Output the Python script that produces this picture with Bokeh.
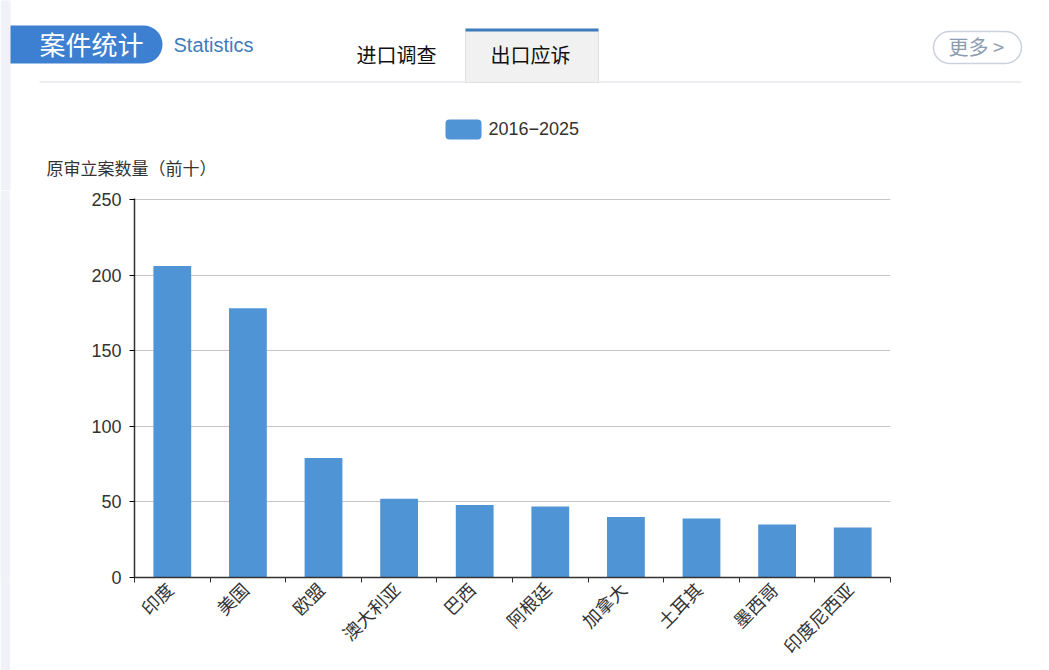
from bokeh.core.properties import value
from bokeh.embed import file_html
from bokeh.layouts import column, row
from bokeh.models import FixedTicker, Range1d
from bokeh.plotting import figure
from bokeh.resources import INLINE
import math

categories = ["印度", "美国", "欧盟", "澳大利亚", "巴西", "阿根廷", "加拿大", "土耳其", "墨西哥", "印度尼西亚"]
case_counts = [206, 178, 79, 52, 48, 47, 40, 39, 35, 33]
y_ticks = [0, 50, 100, 150, 200, 250]
series_name = "2016\u22122025"

W, H = 1049, 670
HEADER_H = 190
STRIP_W = 10
CJK = "Noto Sans CJK SC"
LATIN = "Liberation Sans"
BAR_COLOR = "#4f94d5"
BLUE = "#3d7fd0"
STRIP_COLOR = "#f0f2f7"
positions = [i + 0.5 for i in range(len(categories))]
# 旋转后的标签往左挪一点，和柱子的中心线对齐方式同原图
label_positions = [pos - 0.04 for pos in positions]

# 页头单独一张图，坐标直接用页面像素（文字和色块放到坐标区外会被 svg 裁掉）
header = figure(width=W, height=HEADER_H, output_backend="svg", toolbar_location=None,
                x_range=Range1d(0, W), y_range=Range1d(HEADER_H, 0),
                x_axis_location=None, y_axis_location=None, min_border=0)
header.grid.visible = False
header.outline_line_color = None


def box(left, top, right, bottom, fill, line=None, radius=0, line_width=1):
    header.quad(left=[left], right=[right], top=[top], bottom=[bottom], fill_color=fill,
                line_color=line, line_width=line_width, border_radius=radius)


def label(x, y, text, size, color, font=CJK):
    header.text(x=[x], y=[y], text=[text], text_font=value(font), text_font_size=size,
                text_color=color, text_align="left", text_baseline="middle")


box(0, -5, STRIP_W, HEADER_H + 5, STRIP_COLOR)
box(10, 25, 162, 63, BLUE, radius=dict(top_left=0, top_right=19, bottom_right=19, bottom_left=0))
label(39, 43, "案件统计", "26px", "white")
label(173, 44, "Statistics", "20px", "#3f7cbb", font=LATIN)
box(39, 81, 1021, 82, "#d8dce2")
box(465, 30, 598, 82, "#f1f1f1", line="#e2e2e2")
box(465, 28, 598, 31, "#3f7cbb")
label(356, 54, "进口调查", "20px", "#111111")
label(490, 54, "出口应诉", "20px", "#111111")
box(933, 31, 1021, 63, "white", line="#c9d2de", radius=16, line_width=1.5)
label(948, 46, "更多 >", "20px", "#8b9bb0")

# 图例
box(445, 119, 481, 139, BAR_COLOR, radius=4)
label(488, 128, series_name, "18px", "#333333", font=LATIN)
label(46, 167, "原审立案数量（前十）", "17px", "#333333")

strip = figure(width=STRIP_W, height=H - HEADER_H, output_backend="svg", toolbar_location=None,
               x_range=Range1d(0, 1), y_range=Range1d(0, 1),
               x_axis_location=None, y_axis_location=None, min_border=0)
strip.grid.visible = False
strip.outline_line_color = None
strip.background_fill_color = STRIP_COLOR
strip.border_fill_color = STRIP_COLOR

p = figure(width=W - STRIP_W, height=H - HEADER_H, output_backend="svg", toolbar_location=None,
           frame_width=756, frame_height=379,
           x_range=Range1d(0, len(categories)), y_range=Range1d(0, 250.6),
           min_border_left=134 - STRIP_W, min_border_right=159, min_border_top=198 - HEADER_H, min_border_bottom=93)
p.outline_line_color = None
p.background_fill_color = "white"
p.border_fill_color = "white"

p.vbar(x=positions, top=case_counts, width=0.5, fill_color=BAR_COLOR, line_color=None)

p.xgrid.visible = False
p.ygrid.ticker = FixedTicker(ticks=y_ticks)
p.ygrid.grid_line_color = "#c4c4c4"
p.ygrid.grid_line_width = 1

# 刻度在类目边界上，标签在类目中间
p.xaxis.ticker = FixedTicker(ticks=label_positions, minor_ticks=list(range(len(categories) + 1)))
p.xaxis.major_label_overrides = {pos: name for pos, name in zip(label_positions, categories)}
p.xaxis.major_label_orientation = math.pi / 4
p.xaxis.major_tick_line_color = None
p.xaxis.major_tick_out = 0
p.xaxis.major_tick_in = 0
p.xaxis.minor_tick_out = 5
p.xaxis.minor_tick_in = 0
p.xaxis.minor_tick_line_color = "#333333"
p.xaxis.major_label_text_font = CJK
p.xaxis.major_label_text_font_size = "18px"
p.xaxis.major_label_text_color = "#333333"
p.xaxis.major_label_standoff = 3

p.yaxis.ticker = FixedTicker(ticks=y_ticks)
p.yaxis.minor_tick_line_color = None
p.yaxis.major_tick_out = 5
p.yaxis.major_tick_in = 0
p.yaxis.major_label_text_font = LATIN
p.yaxis.major_label_text_font_size = "18px"
p.yaxis.major_label_text_color = "#333333"
p.yaxis.major_label_standoff = 8
for ax in (p.xaxis, p.yaxis):
    ax.axis_line_color = "#333333"
    ax.axis_line_width = 1.5

page = column(header, row(strip, p, spacing=0), spacing=0)
open("out.html", "w").write(file_html(page, INLINE))
